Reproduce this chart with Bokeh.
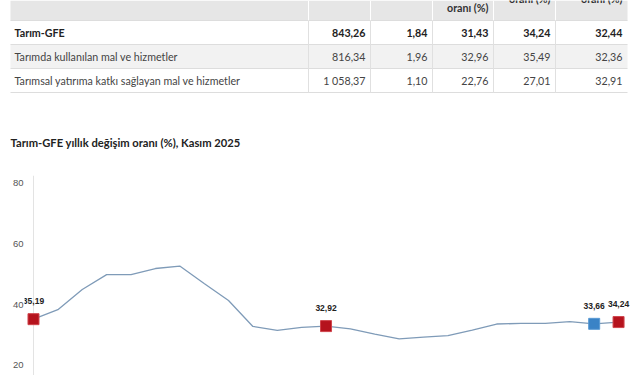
from bokeh.plotting import figure
from bokeh.layouts import column
from bokeh.models import Range1d, FixedTicker, ColumnDataSource, Span
from bokeh.core.properties import value
from bokeh.embed import file_html
from bokeh.resources import INLINE

# ---------------- data ----------------
row_labels = ["Tarım-GFE", "Tarımda kullanılan mal ve hizmetler",
              "Tarımsal yatırıma katkı sağlayan mal ve hizmetler"]
col_index = ["843,26", "816,34", "1 058,37"]
col_monthly = ["1,84", "1,96", "1,10"]
col_ytd = ["31,43", "32,96", "22,76"]
col_annual = ["34,24", "35,49", "27,01"]
col_avg = ["32,44", "32,36", "32,91"]
header_texts = ["", "", "oranı (%)", "oranı (%)", "oranı (%)"]

chart_title = "Tarım-GFE yıllık değişim oranı (%), Kasım 2025"
months = ["Kas 23", "Ara 23", "Oca 24", "Şub 24", "Mar 24", "Nis 24", "May 24",
          "Haz 24", "Tem 24", "Ağu 24", "Eyl 24", "Eki 24", "Kas 24", "Ara 24",
          "Oca 25", "Şub 25", "Mar 25", "Nis 25", "May 25", "Haz 25", "Tem 25",
          "Ağu 25", "Eyl 25", "Eki 25", "Kas 25"]
annual_change = [35.19, 38.3, 44.9, 49.8, 49.8, 51.8, 52.6, 46.9, 41.3, 32.8,
                 31.5, 32.5, 32.92, 32.0, 30.3, 28.7, 29.3, 29.8, 31.6, 33.6,
                 33.8, 33.8, 34.4, 33.66, 34.24]
red_idx = [0, 12, 24]
blue_idx = [23]

FONT = "Lato"

# ---------------- table + title figure ----------------
W = 640
TH = 160
t = figure(width=W, height=TH, x_range=Range1d(0, W), y_range=Range1d(TH, 0),
           output_backend="svg", toolbar_location=None, min_border=0)
t.axis.visible = False
t.grid.visible = False
t.outline_line_color = None

left, right = 10, 627
col_edges = [left, 308, 370, 432, 493, 555, right]
header_top, header_bot = 0, 20
row_h = 24
row_tops = [header_bot + i * row_h for i in range(3)]
row_fill = ["#ffffff", "#f2f2f2", "#ffffff"]

t.quad(left=[left], right=[right], top=[header_top], bottom=[header_bot],
       fill_color="#e6e6e6", line_color=None)
t.quad(left=[left] * 3, right=[right] * 3, top=row_tops,
       bottom=[r + row_h for r in row_tops], fill_color=row_fill, line_color=None)
hy = [header_bot] + [r + row_h for r in row_tops]
t.segment(x0=[left] * len(hy), x1=[right] * len(hy), y0=hy, y1=hy,
          line_color="#dddddd", line_width=1)
vx = col_edges[1:-1]
t.segment(x0=vx, x1=vx, y0=[header_top] * len(vx), y1=[header_bot] * len(vx),
          line_color="#ffffff", line_width=1)
t.segment(x0=vx, x1=vx, y0=[header_bot] * len(vx),
          y1=[row_tops[-1] + row_h] * len(vx), line_color="#e0e0e0", line_width=1)

hx = [e - 5 for e in col_edges[2:]]
hyy = [-10, -10, 7, -2, -2]
t.text(x=hx, y=hyy, text=header_texts, text_align="right", text_baseline="middle",
       text_font=value(FONT), text_font_size="10.7px", text_font_style="bold",
       text_color="#333333")

cols = [col_index, col_monthly, col_ytd, col_annual, col_avg]
for ri in range(3):
    yc = row_tops[ri] + row_h / 2
    style = "bold" if ri == 0 else "normal"
    color = "#222222" if ri == 0 else "#444444"
    t.text(x=[14], y=[yc], text=[row_labels[ri]], text_align="left",
           text_baseline="middle", text_font=value(FONT), text_font_size="10.7px",
           text_font_style=style, text_color=color)
    vals = [c[ri] for c in cols]
    t.text(x=[e - 5 for e in col_edges[2:]], y=[yc] * 5, text=vals,
           text_align="right", text_baseline="middle", text_font=value(FONT),
           text_font_size="10.7px", text_font_style=style, text_color=color)

t.text(x=[10], y=[142], text=[chart_title], text_align="left",
       text_baseline="middle", text_font=value(FONT), text_font_size="11.2px",
       text_font_style="bold", text_color="#222222")

# ---------------- chart figure ----------------
xs = list(range(len(annual_change)))
p = figure(width=W, height=375 - TH, x_range=Range1d(-0.369, 24.49),
           y_range=Range1d(16.72, 82.3), output_backend="svg",
           toolbar_location=None, min_border_top=15, min_border_bottom=0,
           min_border_left=24, min_border_right=10)
p.outline_line_color = None
p.grid.visible = False
p.xaxis.visible = False
p.yaxis.ticker = FixedTicker(ticks=[20, 40, 60, 80])
p.yaxis.major_tick_line_color = None
p.yaxis.minor_tick_line_color = None
p.yaxis.major_tick_out = 0
p.yaxis.major_tick_in = 0
p.yaxis.major_label_standoff = 1
p.yaxis.axis_line_color = None
p.yaxis.major_label_text_font = "Liberation Sans"
p.yaxis.major_label_text_font_size = "9.5px"
p.yaxis.major_label_text_color = "#555555"

p.add_layout(Span(location=0, dimension="height", line_color="#e3e3e3",
                  line_width=1, level="underlay"))

p.line(xs, annual_change, line_color="#7f9bb8", line_width=1.3)

def fmt(v):
    return f"{v:.2f}".replace(".", ",")

red_src = ColumnDataSource(dict(x=red_idx, y=[annual_change[i] for i in red_idx],
                                lab=[fmt(annual_change[i]) for i in red_idx]))
blue_src = ColumnDataSource(dict(x=blue_idx, y=[annual_change[i] for i in blue_idx],
                                 lab=[fmt(annual_change[i]) for i in blue_idx]))
p.scatter("x", "y", source=red_src, marker="square", size=11,
          fill_color="#b5131d", line_color="#d0454d", line_width=1)
p.scatter("x", "y", source=blue_src, marker="square", size=11,
          fill_color="#3a83c6", line_color="#5a9ad4", line_width=1)
for src in (red_src, blue_src):
    p.text("x", "y", text="lab", source=src, y_offset=-18, text_align="center",
           text_baseline="middle", text_font=value("Liberation Sans"),
           text_font_size="8.5px", text_font_style="bold", text_color="#222222")

layout = column(column(t), column(p), spacing=0)
open("out.html", "w").write(file_html(layout, INLINE))
